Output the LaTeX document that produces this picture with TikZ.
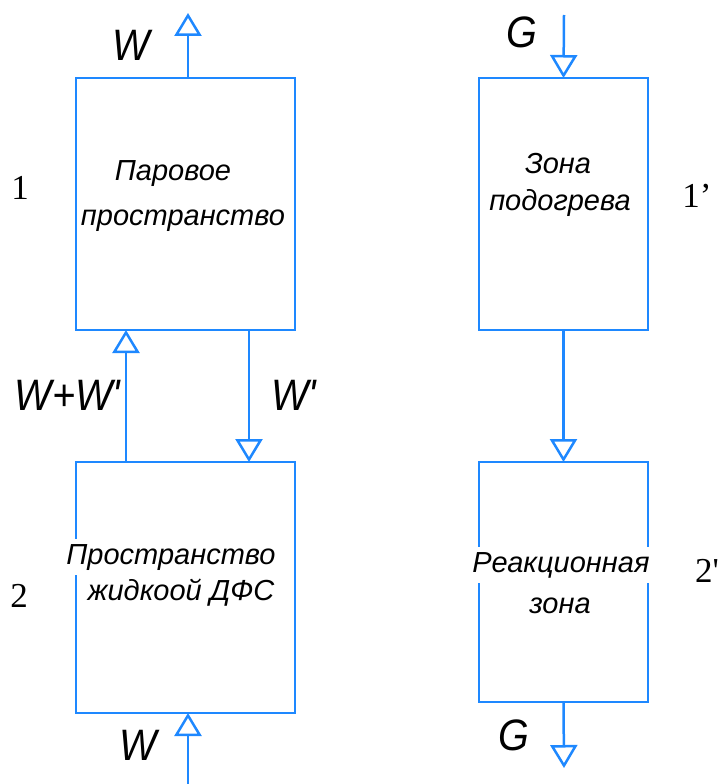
\documentclass[tikz,border=0pt]{standalone}
\usepackage{fontspec}
\setmainfont{Liberation Serif}
\newfontfamily\gostfont{Liberation Sans}[FakeStretch=0.9]
\newfontfamily\captionfont{Liberation Sans}
\usetikzlibrary{arrows.meta}
\definecolor{flow}{RGB}{30,136,255}

\tikzset{
  box/.style={draw=flow, line width=2.5pt, inner sep=0pt, outer sep=0pt},
  flowline/.style={draw=flow, line width=2.5pt,
    -{Triangle[open, width=27pt, length=23pt]}},
  boxtext/.style={font={\captionfont\itshape\fontsize{29pt}{29pt}\selectfont},
    anchor=base, inner sep=0pt},
  cuttext/.style={boxtext, fill=white, inner xsep=1pt, inner ysep=5pt},
  flowlabel/.style={font={\gostfont\itshape\fontsize{44pt}{44pt}\selectfont},
    anchor=base, inner sep=0pt},
  numlabel/.style={font={\fontsize{35pt}{35pt}\selectfont},
    anchor=base, inner sep=0pt}
}

\begin{document}
\begin{tikzpicture}[x=1pt, y=-1pt]
\useasboundingbox (0,0) rectangle (722,784);

% apparatus blocks
\node[box, minimum width=219pt, minimum height=252pt] (vap)   at (185.5,204)   {};
\node[box, minimum width=219pt, minimum height=251pt] (liq)   at (185.5,587.5) {};
\node[box, minimum width=169pt, minimum height=252pt] (heat)  at (563.5,204)   {};
\node[box, minimum width=169pt, minimum height=240pt] (react) at (563.5,582)   {};

% stream positions
\coordinate (xw)  at (188,0);
\coordinate (xup) at (126,0);
\coordinate (xdn) at (249,0);
\coordinate (wout) at (188,13);
\coordinate (win)  at (188,784);
\coordinate (gin)  at (564,15);
\coordinate (gout) at (564,768);

% streams
\draw[flowline] (vap.north -| xw) -- (wout);
\draw[flowline] (liq.north -| xup) -- (vap.south -| xup);
\draw[flowline] (vap.south -| xdn) -- (liq.north -| xdn);
\draw[flowline] (win) -- (liq.south -| xw);
\draw[flowline] (gin) -- (heat.north);
\draw[flowline] (heat.south) -- (react.north);
\draw[flowline] (react.south) -- (gout);

% block captions
\node[boxtext] (t1a) at (173,180) {Паровое};
\node[boxtext] (t1b) at (183,225) {пространство};
\node[boxtext] (t3a) at (558,173) {Зона};
\node[boxtext] (t3b) at (560,210) {подогрева};
\node[cuttext] (t2a) at (171,564) {Пространство};
\node[boxtext] (t2b) at (181,600) {жидкоой ДФС};
\node[cuttext] (t4a) at (561,572) {Реакционная};
\node[boxtext] (t4b) at (560,613) {зона};

% stream labels
\node[flowlabel] (lw1) at (131,60)  {W};
\node[flowlabel] (lww) at (68,410)  {W+W\textquotesingle};
\node[flowlabel] (lw2) at (294,410) {W\textquotesingle};
\node[flowlabel] (lw3) at (138,760) {W};
\node[flowlabel] (lg1) at (522,48)  {G};
\node[flowlabel] (lg2) at (514,750) {G};

% zone numbers
\node[numlabel] (n1)  at (20,199)  {1};
\node[numlabel] (n1p) at (697,207) {1’};
\node[numlabel] (n2)  at (19,607)  {2};
\node[numlabel, anchor=base west] (n2p) at (695,582) {2\textquotesingle};
\end{tikzpicture}
\end{document}
